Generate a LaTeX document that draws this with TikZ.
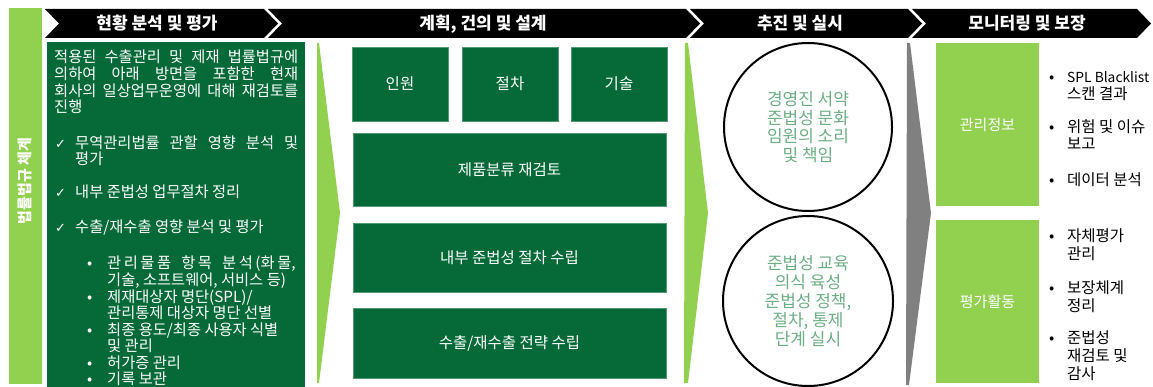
\documentclass[tikz,border=0pt]{standalone}
\usepackage{fontspec}
\setmainfont{Noto Sans CJK KR}
\newfontfamily\symfont{DejaVu Sans}
\definecolor{dg}{RGB}{5,106,56}
\definecolor{lg}{RGB}{146,208,80}
\definecolor{gr}{RGB}{128,128,128}
\definecolor{ct}{RGB}{108,174,132}
\newcommand\gp{\hspace{0pt plus 1fil}}
\newcommand\wgp{\hspace{5pt plus 2fil}}
\tikzset{
  hdrtext/.style={text=white,font=\fontsize{17}{19}\selectfont\bfseries,inner sep=0,anchor=base},
  wtxt/.style={text=white,font=\fontsize{15.3}{17}\selectfont,inner sep=0,anchor=base west},
  btxt/.style={text=black,font=\fontsize{15.5}{17}\selectfont,inner sep=0,anchor=base west},
  dbox/.style={fill=dg,draw=dg!70!white,line width=0.6pt,text=white,font=\fontsize{15.5}{17}\selectfont,inner sep=0},
  lbox/.style={fill=lg,text=white,font=\fontsize{15}{17}\selectfont,inner sep=0,minimum width=103pt,minimum height=163pt},
  circ/.style={circle,draw=black,line width=2pt,text=ct,align=center,inner sep=0}
}
\begin{document}
\begin{tikzpicture}[x=1pt,y=-1pt]
\useasboundingbox (0,0) rectangle (1153,387);
\clip (0,0) rectangle (1153,387);
% left vertical bar
\fill[lg] (9,8) rectangle (42,384);
\node[text=white,font=\fontsize{15}{17}\selectfont\bfseries,rotate=90,inner sep=0] (vlabel) at (25,181) {법률법규 체계};
% header chevrons
\fill[black] (45,9) -- (264,9) -- (278,23.5) -- (264,38) -- (45,38) -- (59,23.5) -- cycle;
\fill[black] (268,9) -- (686,9) -- (700,23.5) -- (686,38) -- (268,38) -- (282,23.5) -- cycle;
\fill[black] (690,9) -- (908,9) -- (922,23.5) -- (908,38) -- (690,38) -- (704,23.5) -- cycle;
\fill[black] (912,9) -- (1137,9) -- (1151,23.5) -- (1137,38) -- (912,38) -- (926,23.5) -- cycle;
\node[hdrtext] (h1) at (157,30) {현황 분석 및 평가};
\node[hdrtext] (h2) at (483,30) {계획, 건의 및 설계};
\node[hdrtext] (h3) at (800,30) {추진 및 실시};
\node[hdrtext] (h4) at (1027,30) {모니터링 및 보장};
% left dark box
\fill[dg] (47,42) rectangle (305,395);
\node[wtxt] (p1a) at (54,63) {\makebox[244pt][s]{적용된 수출관리 및 제재 법률법규에}};
\node[wtxt] (p1b) at (54,80) {\makebox[244pt][s]{의하여 아래 방면을 포함한 현재}};
\node[wtxt] (p1c) at (54,97) {\makebox[244pt][s]{회사의 일상업무운영에 대해 재검토를}};
\node[wtxt] (p1d) at (54,113) {진행};
\node[wtxt] (k1) at (55,149) {\symfont\fontsize{13}{15}\selectfont ✓};
\node[wtxt] (c1a) at (75,149) {\makebox[223pt][s]{무역관리법률 관할 영향 분석 및}};
\node[wtxt] (c1b) at (75,165) {평가};
\node[wtxt] (k2) at (55,198) {\symfont\fontsize{13}{15}\selectfont ✓};
\node[wtxt] (c2a) at (75,198) {내부 준법성 업무절차 정리};
\node[wtxt] (k3) at (55,233) {\symfont\fontsize{13}{15}\selectfont ✓};
\node[wtxt] (c3a) at (75,233) {수출/재수출 영향 분석 및 평가};
\node[wtxt] (b1) at (87,269) {•};
\node[wtxt] (s1a) at (107,269) {\makebox[191pt][l]{관\gp 리\gp 물\gp 품\wgp 항\gp 목\wgp 분\gp 석\gp (화\gp 물,}};
\node[wtxt] (s1b) at (107,285.5) {기술, 소프트웨어, 서비스 등)};
\node[wtxt] (b2) at (87,302) {•};
\node[wtxt] (s2a) at (107,302) {제재대상자 명단(SPL)/};
\node[wtxt] (s2b) at (107,318.5) {관리통제 대상자 명단 선별};
\node[wtxt] (b3) at (87,335) {•};
\node[wtxt] (s3a) at (107,335) {최종 용도/최종 사용자 식별};
\node[wtxt] (s3b) at (107,351.5) {및 관리};
\node[wtxt] (b4) at (87,368) {•};
\node[wtxt] (s4a) at (107,368) {허가증 관리};
\node[wtxt] (b5) at (87,384.5) {•};
\node[wtxt] (s5a) at (107,384.5) {기록 보관};
% wedges
\fill[lg] (317,43) -- (319,43) -- (340,213) -- (319,383) -- (317,383) -- cycle;
\fill[lg] (685,43) -- (688,43) -- (708,213) -- (688,383) -- (684,383) -- cycle;
\fill[gr] (907,43) -- (910,43) -- (931,213) -- (909,385) -- (906,385) -- cycle;
% middle boxes
\node[dbox,minimum width=96pt,minimum height=74pt] (inwon) at (400,84) {인원};
\node[dbox,minimum width=96pt,minimum height=74pt] (jeolcha) at (510,84) {절차};
\node[dbox,minimum width=96pt,minimum height=74pt] (gisul) at (619,84) {기술};
\node[dbox,minimum width=313pt,minimum height=73pt] (prod) at (509.5,169.5) {제품분류 재검토};
\node[dbox,minimum width=313pt,minimum height=69pt] (proc) at (509.5,257.5) {내부 준법성 절차 수립};
\node[dbox,minimum width=313pt,minimum height=70pt] (strat) at (509.5,343) {수출/재수출 전략 수립};
% circles
\node[circ,minimum size=168pt,font=\fontsize{17}{18.5}\selectfont] (circ1) at (808,127) {경영진 서약\\준법성 문화\\임원의 소리\\및 책임};
\node[circ,minimum size=170pt,font=\fontsize{17}{19}\selectfont] (circ2) at (808,301) {준법성 교육\\의식 육성\\준법성 정책,\\절차, 통제\\단계 실시};
% right boxes
\node[lbox] (mgmt) at (987.5,124.5) {관리정보};
\node[lbox] (eval) at (987.5,301.5) {평가활동};
% right bullets
\node[btxt] (rb1) at (1049,83) {•};
\node[btxt] (r1a) at (1067,83) {\fontsize{13.8}{17}\selectfont SPL Blacklist};
\node[btxt] (r1b) at (1067,100) {스캔 결과};
\node[btxt] (rb2) at (1049,133) {•};
\node[btxt] (r2a) at (1067,133) {위험 및 이슈};
\node[btxt] (r2b) at (1067,150) {보고};
\node[btxt] (rb3) at (1049,186) {•};
\node[btxt] (r3a) at (1067,186) {데이터 분석};
\node[btxt] (rb4) at (1049,242) {•};
\node[btxt] (r4a) at (1067,242) {자체평가};
\node[btxt] (r4b) at (1067,259) {관리};
\node[btxt] (rb5) at (1049,293) {•};
\node[btxt] (r5a) at (1067,293) {보장체계};
\node[btxt] (r5b) at (1067,311) {정리};
\node[btxt] (rb6) at (1049,343) {•};
\node[btxt] (r6a) at (1067,343) {준법성};
\node[btxt] (r6b) at (1067,361) {재검토 및};
\node[btxt] (r6c) at (1067,379) {감사};
\end{tikzpicture}
\end{document}
